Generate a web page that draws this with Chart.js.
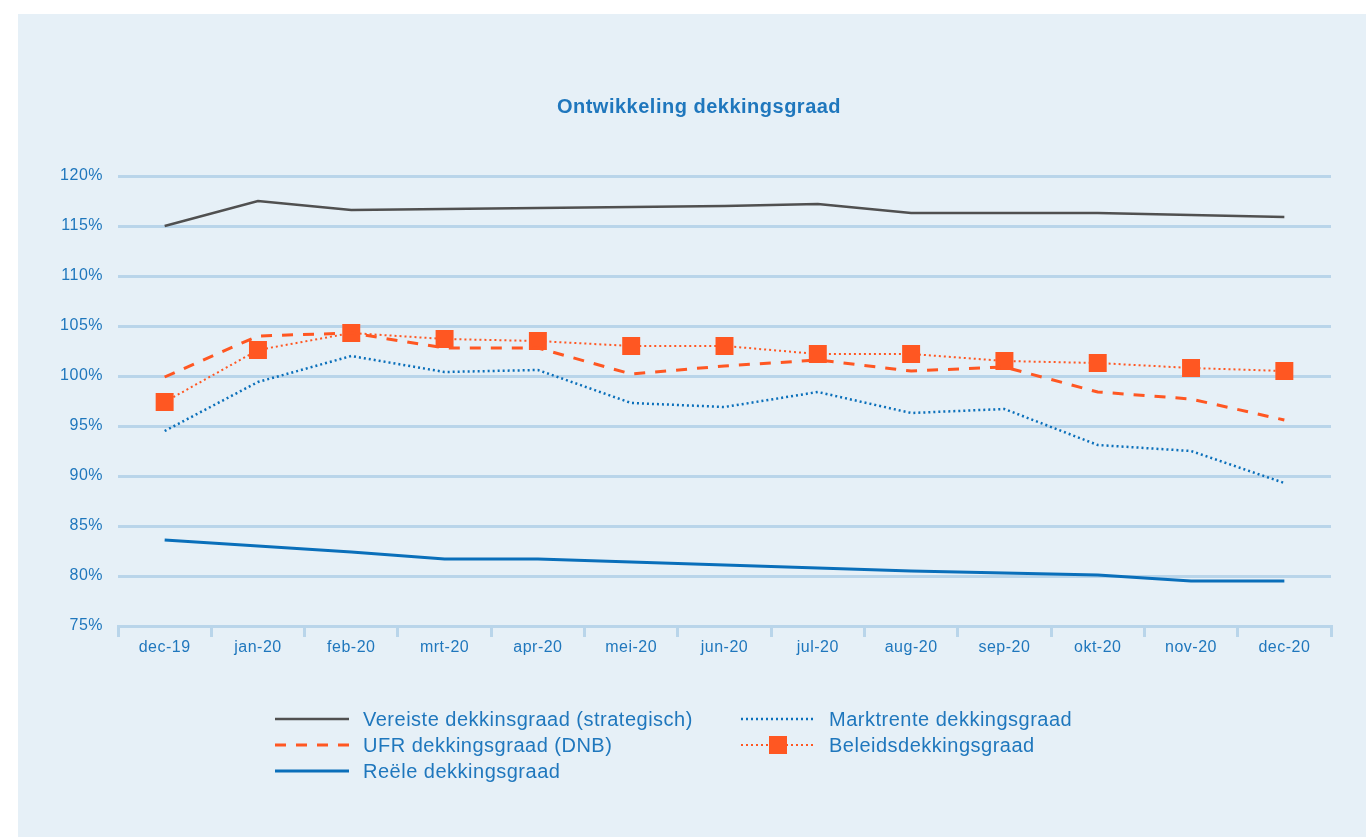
<!DOCTYPE html>
<html>
<head>
<meta charset="utf-8">
<script src="https://cdn.jsdelivr.net/npm/chart.js@4.4.0/dist/chart.umd.min.js"></script>
<style>
  body { margin: 0; background: #fff; }
  #paneel { position: absolute; left: 18px; top: 14px; width: 1348px; height: 823px; background: #e6f0f7; }
</style>
</head>
<body>
<div id="paneel"><canvas id="dekkingsgraad" width="1348" height="823"></canvas></div>
<script>
// maanden
const maanden = ["dec-19", "jan-20", "feb-20", "mrt-20", "apr-20", "mei-20", "jun-20", "jul-20", "aug-20", "sep-20", "okt-20", "nov-20", "dec-20"];

// dekkingsgraden in %
const vereiste   = [115.0, 117.5, 116.6, 116.7, 116.8, 116.9, 117.0, 117.2, 116.3, 116.3, 116.3, 116.1, 115.9];
const ufr        = [99.9, 104.0, 104.3, 102.8, 102.8, 100.2, 101.0, 101.6, 100.5, 100.9, 98.4, 97.7, 95.6];
const reele      = [83.6, 83.0, 82.4, 81.7, 81.7, 81.4, 81.1, 80.8, 80.5, 80.3, 80.1, 79.5, 79.5];
const marktrente = [94.5, 99.4, 102.0, 100.4, 100.6, 97.3, 96.9, 98.4, 96.3, 96.7, 93.1, 92.5, 89.3];
const beleids    = [97.4, 102.6, 104.3, 103.7, 103.5, 103.0, 103.0, 102.2, 102.2, 101.5, 101.3, 100.8, 100.5];

const titel = "Ontwikkeling dekkingsgraad";

const blauw = "#1f77bd";
const oranje = "#ff5722";
const lijnBlauw = "#0a6fba";
const grijs = "#505050";
const rasterKleur = "#b9d5ea";
const lettertype = "'Liberation Sans', Arial, sans-serif";

// iets ruimere letters, lijkt meer op het origineel
const letterPlugin = {
    id: "letters",
    beforeDraw(chart) { chart.ctx.letterSpacing = "0.5px"; }
};

// titel staat niet precies in het midden van het canvas
const titelPlugin = {
    id: "titel",
    afterDraw(chart) {
        const ctx = chart.ctx;
        ctx.save();
        ctx.fillStyle = blauw;
        ctx.font = "bold 20px " + lettertype;
        ctx.letterSpacing = "0.5px";
        ctx.textAlign = "center";
        ctx.textBaseline = "middle";
        ctx.fillText(titel, 681, 93);
        ctx.restore();
    }
};

// legenda zelf tekenen, twee kolommen zoals in het origineel
const legendaPlugin = {
    id: "legenda",
    afterDraw(chart) {
        const ctx = chart.ctx;
        const items = [
            { ds: 0, x: 257, y: 705 },
            { ds: 1, x: 257, y: 731 },
            { ds: 2, x: 257, y: 757 },
            { ds: 3, x: 723, y: 705 },
            { ds: 4, x: 723, y: 731 }
        ];
        items.forEach(function(it) {
            const d = chart.data.datasets[it.ds];
            ctx.save();
            ctx.strokeStyle = d.borderColor;
            ctx.lineWidth = d.borderWidth;
            ctx.setLineDash(d.borderDash || []);
            ctx.beginPath();
            ctx.moveTo(it.x, it.y);
            ctx.lineTo(it.x + 74, it.y);
            ctx.stroke();
            if (d.pointRadius > 0) {
                ctx.setLineDash([]);
                ctx.fillStyle = d.pointBackgroundColor;
                ctx.fillRect(it.x + 28, it.y - 9, 18, 18);
            }
            ctx.fillStyle = blauw;
            ctx.font = "20px " + lettertype;
            ctx.letterSpacing = "0.5px";
            ctx.textBaseline = "middle";
            ctx.fillText(d.label, it.x + 88, it.y + 1);
            ctx.restore();
        });
    }
};

var grafiek = document.getElementById("dekkingsgraad");
var lijnGrafiek = new Chart(grafiek, {
    type: "line",
    data: {
        labels: maanden,
        datasets: [{
            label: "Vereiste dekkinsgraad (strategisch)",
            data: vereiste,
            borderColor: grijs,
            borderWidth: 2.5,
            pointRadius: 0
        }, {
            label: "UFR dekkingsgraad (DNB)",
            data: ufr,
            borderColor: oranje,
            borderWidth: 3,
            borderDash: [11, 10],
            pointRadius: 0
        }, {
            label: "Reële dekkingsgraad",
            data: reele,
            borderColor: lijnBlauw,
            borderWidth: 3,
            pointRadius: 0
        }, {
            label: "Marktrente dekkingsgraad",
            data: marktrente,
            borderColor: lijnBlauw,
            borderWidth: 2.5,
            borderDash: [2, 3],
            pointRadius: 0
        }, {
            label: "Beleidsdekkingsgraad",
            data: beleids,
            borderColor: oranje,
            borderWidth: 2,
            borderDash: [2, 3],
            pointStyle: "rect",
            pointRadius: 12.7,
            pointBackgroundColor: oranje,
            pointBorderWidth: 0
        }]
    },
    options: {
        responsive: false,
        animation: false,
        layout: { padding: { top: 162, right: 35 } },
        plugins: {
            legend: { display: false },
            tooltip: { enabled: false },
            title: { display: false }
        },
        scales: {
            x: {
                offset: true,
                grid: {
                    offset: true,
                    drawOnChartArea: false,
                    drawTicks: true,
                    tickLength: 11,
                    color: rasterKleur,
                    lineWidth: 3
                },
                border: { display: true, color: rasterKleur, width: 3 },
                ticks: {
                    color: blauw,
                    font: { family: lettertype, size: 16 },
                    padding: 1,
                    maxRotation: 0
                },
                afterFit(scale) { scale.height = 211; }
            },
            y: {
                min: 75,
                max: 120,
                ticks: {
                    stepSize: 5,
                    color: blauw,
                    font: { family: lettertype, size: 16 },
                    padding: 15,
                    callback: function(v) { return v + "%"; }
                },
                grid: { color: rasterKleur, lineWidth: 3, drawTicks: false },
                border: { display: false },
                afterFit(scale) { scale.width = 100; }
            }
        }
    },
    plugins: [letterPlugin, titelPlugin, legendaPlugin]
});
</script>
</body>
</html>
